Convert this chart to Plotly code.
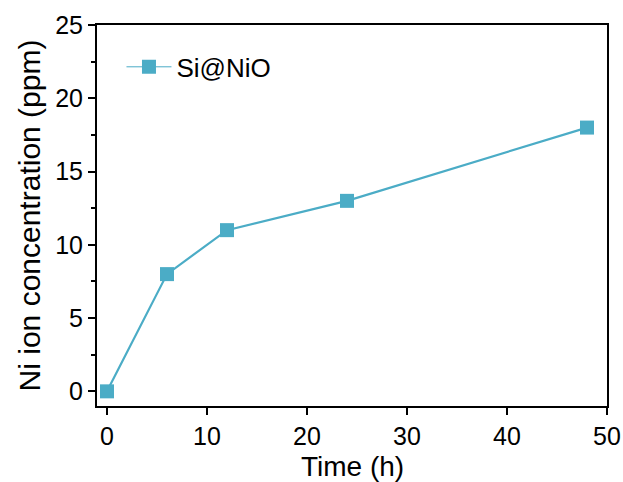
import plotly.graph_objects as go

time_h = [0, 6, 12, 24, 48]
ni_ppm = [0, 8, 11, 13, 18]
series_name = "Si@NiO"
x_title = "Time (h)"
y_title = "Ni ion concentration (ppm)"
color = "#4bacc6"
font_family = "Liberation Sans, Arial"

fig = go.Figure()
fig.add_trace(go.Scatter(
    x=time_h, y=ni_ppm, mode="lines+markers", name=series_name,
    line=dict(color=color, width=2.2),
    marker=dict(symbol="square", size=14, color=color),
    showlegend=False,
))
# legend entry (thinner line like the reference)
fig.add_trace(go.Scatter(
    x=[None], y=[None], mode="lines+markers", name=series_name,
    line=dict(color=color, width=1),
    marker=dict(symbol="square", size=14, color=color),
    showlegend=True,
))

axis_common = dict(
    showline=True, linecolor="black", linewidth=2, mirror=True,
    ticks="outside", ticklen=7, tickwidth=2, tickcolor="black",
    showgrid=False, zeroline=False, automargin=False,
    tickfont=dict(family=font_family, size=25, color="black"),
)

fig.update_xaxes(
    range=[-1, 50], tickvals=[0, 10, 20, 30, 40, 50],
    **axis_common,
)
fig.update_yaxes(
    range=[-1, 25], tickvals=[0, 5, 10, 15, 20, 25],
    minor=dict(tickvals=[2.5, 7.5, 12.5, 17.5, 22.5], ticks="outside", ticklen=4, tickwidth=2, tickcolor="black"),
    title=dict(text=y_title, font=dict(family=font_family, size=30, color="black"), standoff=6),
    **axis_common,
)

fig.add_annotation(
    text=x_title, xref="paper", yref="paper", x=0.5, y=-0.158,
    xanchor="center", yanchor="middle", showarrow=False, borderpad=0,
    font=dict(family=font_family, size=28, color="black"),
)

fig.update_layout(
    width=623, height=482,
    margin=dict(l=97, r=16, t=25, b=76),
    plot_bgcolor="white", paper_bgcolor="white",
    showlegend=True,
    legend=dict(x=0.048, y=0.89, xanchor="left", yanchor="middle",
                itemwidth=45,
                font=dict(family=font_family, size=26, color="black"),
                bgcolor="rgba(0,0,0,0)"),
)

fig.write_html("out.html", config={"displayModeBar": False},
               post_script="document.body.style.margin='0';")
